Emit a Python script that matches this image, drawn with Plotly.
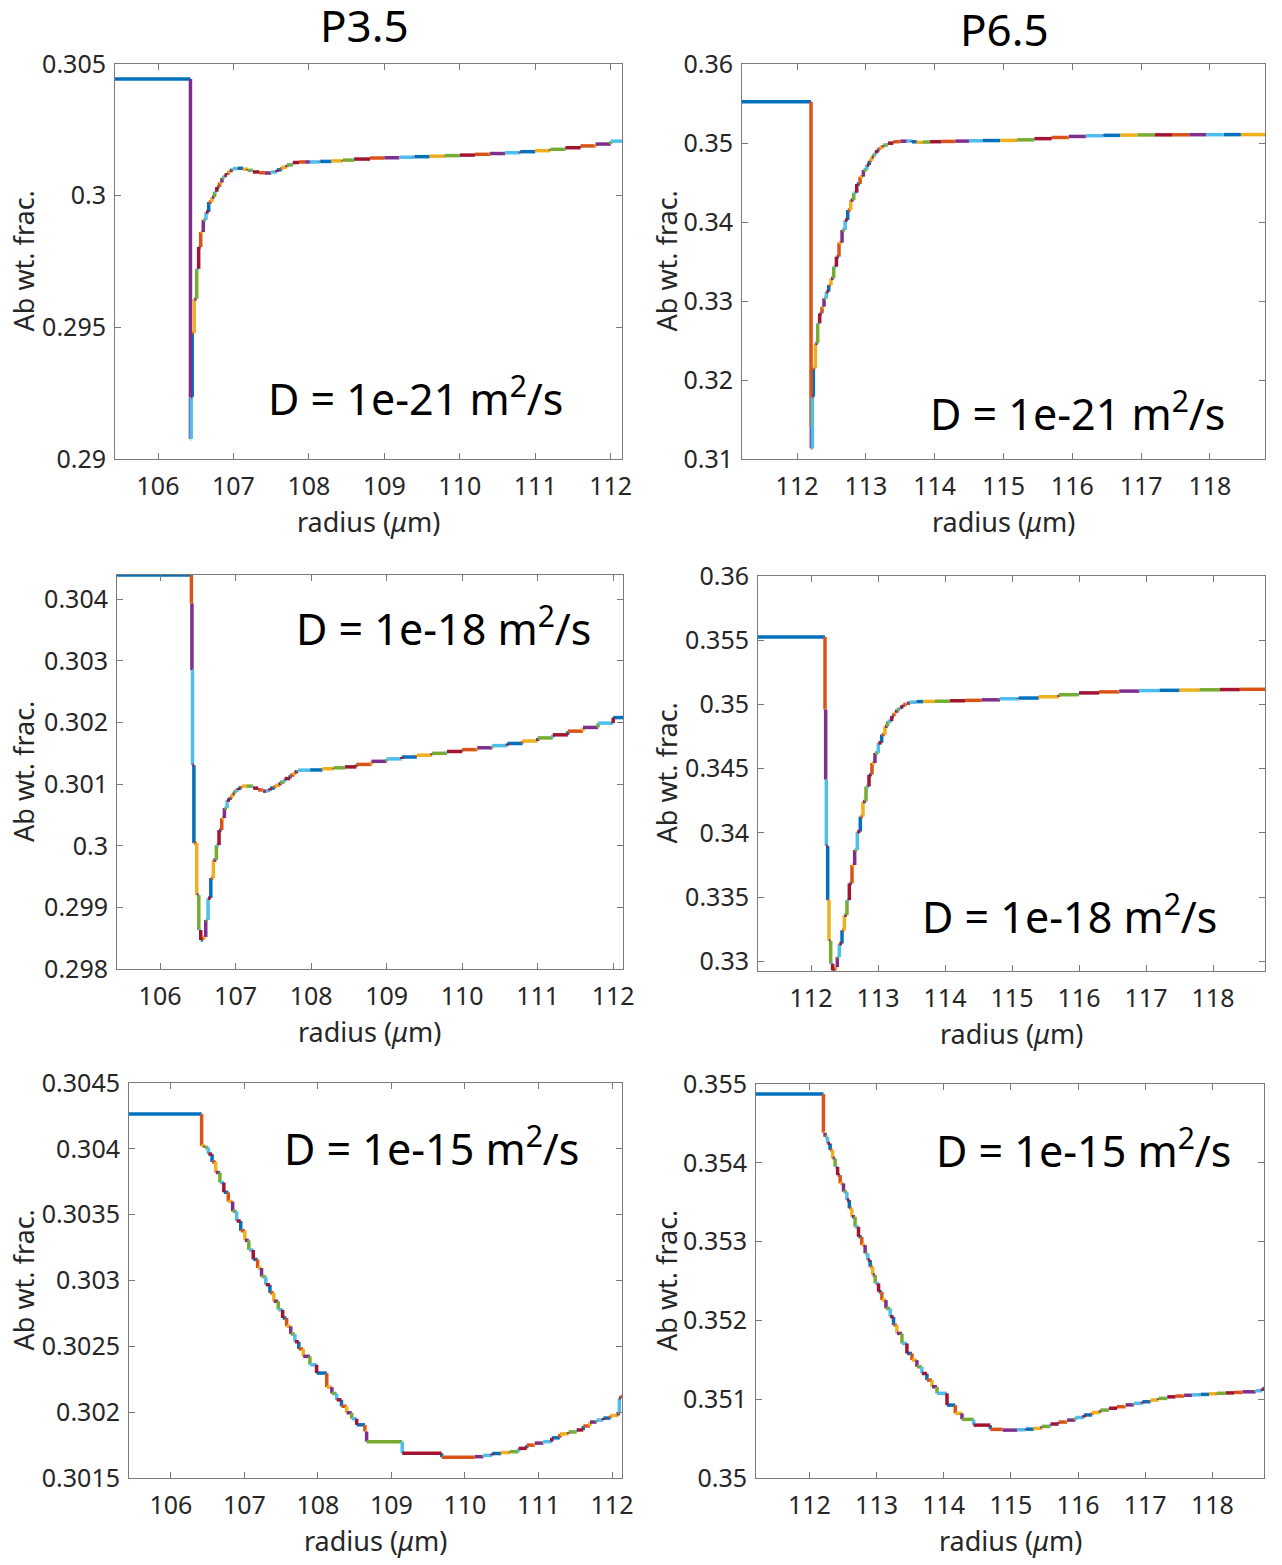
import plotly.graph_objects as go

# ---------------- data (ring start radius in um, Ab weight fraction) ----------------
palette = ['#0072BD', '#D95319', '#EDB120', '#7E2F8E', '#77AC30', '#4DBEEE', '#A2142F']

p35_d21_r = [105.43, 106.43, 106.44, 106.454, 106.481, 106.513, 106.539, 106.566, 106.600, 106.636,
             106.672, 106.715, 106.75, 106.78, 106.815, 106.848, 106.88, 106.914, 106.95, 106.993,
             107.06, 107.126, 107.19, 107.258, 107.34, 107.417, 107.5, 107.576, 107.64, 107.709,
             107.788, 107.87, 107.95, 108.013, 108.15, 108.3, 108.45, 108.6, 108.81, 109.0,
             109.2, 109.4, 109.6, 109.8, 110.0, 110.2, 110.4, 110.6, 110.8, 111.0,
             111.2, 111.4, 111.6, 111.8, 112.0]
p35_d21_c = [0.30443, 0.29076, 0.29236, 0.29479, 0.29608, 0.29722, 0.29805, 0.29862, 0.29908, 0.29938,
             0.29976, 0.29995, 0.30015, 0.30033, 0.30050, 0.30067, 0.30078, 0.30086, 0.30096, 0.30103,
             0.30104, 0.30101, 0.30096, 0.30090, 0.30087, 0.30086, 0.30090, 0.30098, 0.30108, 0.30117,
             0.30126, 0.30128, 0.30128, 0.30128, 0.30130, 0.30132, 0.30135, 0.30139, 0.30143, 0.30144,
             0.30146, 0.30148, 0.30150, 0.30152, 0.30154, 0.30157, 0.30160, 0.30163, 0.30167, 0.30171,
             0.30176, 0.30182, 0.30189, 0.30196, 0.30207]
p35_d21_end = 112.15

p35_d18_r = [105.43, 106.415, 106.422, 106.430, 106.448, 106.486, 106.513, 106.539, 106.566, 106.605,
             106.636, 106.672, 106.706, 106.746, 106.781, 106.817, 106.852, 106.887, 106.927, 106.96,
             106.993, 107.04, 107.082, 107.148, 107.232, 107.30, 107.364, 107.41, 107.457, 107.52,
             107.589, 107.65, 107.722, 107.78, 107.828, 107.987, 108.15, 108.3, 108.45, 108.6,
             108.8, 109.0, 109.2, 109.4, 109.6, 109.8, 110.0, 110.2, 110.4, 110.6,
             110.8, 111.0, 111.2, 111.4, 111.6, 111.8, 112.0]
p35_d18_c = [0.304394, 0.303935, 0.302849, 0.301308, 0.300043, 0.299200, 0.298632, 0.298470, 0.298520, 0.298795,
             0.299151, 0.299476, 0.299768, 0.300011, 0.300254, 0.300449, 0.300611, 0.300741, 0.300789, 0.300850,
             0.300903, 0.300940, 0.300968, 0.300968, 0.300935, 0.300905, 0.300886, 0.300895, 0.300935, 0.300980,
             0.301032, 0.301090, 0.301146, 0.301200, 0.301227, 0.301230, 0.301250, 0.301265, 0.301280, 0.301320,
             0.301370, 0.301410, 0.301440, 0.301470, 0.301500, 0.301530, 0.301560, 0.301590, 0.301625, 0.301660,
             0.301700, 0.301750, 0.301800, 0.301860, 0.301920, 0.301990, 0.302080]
p35_d18_end = 112.13

p35_d15_r = [105.43, 106.418, 106.463, 106.51, 106.56, 106.61, 106.667, 106.72, 106.78, 106.84,
             106.894, 106.95, 107.007, 107.06, 107.12, 107.18, 107.233, 107.29, 107.347, 107.40,
             107.46, 107.52, 107.574, 107.63, 107.687, 107.74, 107.80, 107.891, 107.982, 108.12,
             108.19, 108.254, 108.32, 108.39, 108.46, 108.527, 108.639, 108.662, 109.147, 109.683,
             110.136, 110.25, 110.37, 110.49, 110.612, 110.73, 110.84, 110.95, 111.065, 111.18,
             111.29, 111.41, 111.52, 111.61, 111.70, 111.79, 111.882, 111.98, 112.086, 112.10,
             112.12]
p35_d15_c = [0.304264, 0.304023, 0.304010, 0.303960, 0.303900, 0.303820, 0.303744, 0.303670, 0.303600, 0.303525,
             0.303452, 0.303378, 0.303305, 0.303232, 0.303160, 0.303095, 0.303030, 0.302968, 0.302906, 0.302842,
             0.302778, 0.302715, 0.302652, 0.302593, 0.302535, 0.302480, 0.302424, 0.302360, 0.302297, 0.302190,
             0.302142, 0.302094, 0.302045, 0.301995, 0.301950, 0.301904, 0.301853, 0.301776, 0.301688, 0.301658,
             0.301662, 0.301672, 0.301686, 0.301693, 0.301700, 0.301725, 0.301750, 0.301765, 0.301776, 0.301805,
             0.301835, 0.301850, 0.301865, 0.301895, 0.301925, 0.301940, 0.301955, 0.301975, 0.301993, 0.302107,
             0.302119]
p35_d15_end = 112.136

p65_d21_r = [111.20, 112.203, 112.208, 112.223, 112.237, 112.266, 112.300, 112.329, 112.363, 112.392,
             112.426, 112.460, 112.494, 112.533, 112.572, 112.610, 112.654, 112.698, 112.736, 112.780,
             112.824, 112.867, 112.916, 112.964, 113.013, 113.05, 113.085, 113.12, 113.158, 113.2,
             113.254, 113.32, 113.4, 113.5, 113.594, 113.67, 113.74, 113.83, 113.933, 114.1,
             114.3, 114.5, 114.7, 114.95, 115.2, 115.45, 115.7, 115.95, 116.2, 116.45,
             116.7, 116.95, 117.2, 117.45, 117.7, 117.95, 118.2, 118.45]
p65_d21_c = [0.355232, 0.314093, 0.311351, 0.317890, 0.321477, 0.324641, 0.327173, 0.328439, 0.329283, 0.330338,
             0.331181, 0.332025, 0.332869, 0.334346, 0.335612, 0.337384, 0.338987, 0.340253, 0.341519, 0.342785,
             0.343713, 0.344810, 0.345738, 0.346582, 0.347215, 0.347750, 0.348266, 0.348700, 0.349114, 0.349450,
             0.349747, 0.349980, 0.350165, 0.350230, 0.350253, 0.350150, 0.350080, 0.350120, 0.350165, 0.350200,
             0.350240, 0.350280, 0.350310, 0.350330, 0.350400, 0.350550, 0.350700, 0.350830, 0.350920, 0.350970,
             0.351000, 0.351020, 0.351030, 0.351040, 0.351050, 0.351055, 0.351060, 0.351065]
p65_d21_end = 118.80

p65_d18_r = [111.209, 112.209, 112.219, 112.229, 112.249, 112.269, 112.294, 112.323, 112.358, 112.393,
             112.423, 112.463, 112.498, 112.537, 112.572, 112.612, 112.652, 112.691, 112.736, 112.776,
             112.821, 112.866, 112.910, 112.955, 113.005, 113.055, 113.104, 113.144, 113.204, 113.24,
             113.279, 113.33, 113.378, 113.43, 113.478, 113.58, 113.676, 113.85, 114.075, 114.3,
             114.55, 114.821, 115.1, 115.4, 115.7, 116.0, 116.3, 116.6, 116.9, 117.2,
             117.5, 117.8, 118.1, 118.4]
p65_d18_c = [0.355258, 0.349609, 0.344141, 0.338984, 0.334766, 0.331586, 0.329820, 0.329300, 0.329551, 0.330332,
             0.331383, 0.332422, 0.333594, 0.334766, 0.336069, 0.337500, 0.338672, 0.340102, 0.341273, 0.342445,
             0.343617, 0.344531, 0.345445, 0.346227, 0.347008, 0.347656, 0.348305, 0.348695, 0.349086, 0.349350,
             0.349609, 0.349800, 0.350000, 0.350100, 0.350180, 0.350220, 0.350234, 0.350250, 0.350286, 0.350320,
             0.350360, 0.350443, 0.350500, 0.350600, 0.350760, 0.350900, 0.350980, 0.351040, 0.351080, 0.351100,
             0.351120, 0.351140, 0.351160, 0.351180]
p65_d18_end = 118.776

p65_d15_r = [111.205, 112.209, 112.234, 112.27, 112.309, 112.346, 112.383, 112.42, 112.458, 112.508,
             112.558, 112.595, 112.632, 112.68, 112.731, 112.78, 112.830, 112.868, 112.905, 112.943,
             112.980, 113.03, 113.079, 113.14, 113.203, 113.253, 113.303, 113.378, 113.452, 113.527,
             113.601, 113.675, 113.750, 113.825, 113.900, 114.049, 114.172, 114.272, 114.445, 114.694,
             114.878, 115.092, 115.22, 115.340, 115.46, 115.59, 115.71, 115.838, 115.96, 116.09,
             116.21, 116.334, 116.46, 116.58, 116.71, 116.831, 116.96, 117.08, 117.20, 117.329,
             117.45, 117.58, 117.70, 117.825, 117.95, 118.07, 118.20, 118.322, 118.45, 118.645,
             118.745]
p65_d15_c = [0.354872, 0.354381, 0.354330, 0.354245, 0.354161, 0.354055, 0.353949, 0.353844, 0.353739, 0.353633,
             0.353527, 0.353421, 0.353315, 0.353188, 0.353061, 0.352956, 0.352851, 0.352766, 0.352681, 0.352575,
             0.352470, 0.352364, 0.352258, 0.352152, 0.352046, 0.351940, 0.351835, 0.351708, 0.351581, 0.351496,
             0.351411, 0.351326, 0.351242, 0.351158, 0.351074, 0.350925, 0.350820, 0.350744, 0.350671, 0.350617,
             0.350608, 0.350612, 0.350620, 0.350630, 0.350655, 0.350685, 0.350710, 0.350735, 0.350768, 0.350800,
             0.350832, 0.350862, 0.350885, 0.350905, 0.350928, 0.350947, 0.350968, 0.350990, 0.351010, 0.351030,
             0.351040, 0.351050, 0.351056, 0.351061, 0.351068, 0.351075, 0.351080, 0.351086, 0.351094, 0.351107,
             0.351137]
p65_d15_end = 118.769

# tick labels
left_xticks = [106, 107, 108, 109, 110, 111, 112]
right_xticks = [112, 113, 114, 115, 116, 117, 118]
p35_d21_yticks = [0.29, 0.295, 0.3, 0.305]
p35_d18_yticks = [0.298, 0.299, 0.3, 0.301, 0.302, 0.303, 0.304]
p35_d15_yticks = [0.3015, 0.302, 0.3025, 0.303, 0.3035, 0.304, 0.3045]
p65_d21_yticks = [0.31, 0.32, 0.33, 0.34, 0.35, 0.36]
p65_d18_yticks = [0.33, 0.335, 0.34, 0.345, 0.35, 0.355, 0.36]
p65_d15_yticks = [0.35, 0.351, 0.352, 0.353, 0.354, 0.355]

column_titles = ['P3.5', 'P6.5']
d_labels = ['D = 1e-21 m<sup>2</sup>/s', 'D = 1e-18 m<sup>2</sup>/s', 'D = 1e-15 m<sup>2</sup>/s']

# ---------------- layout (pixel boxes) ----------------
W, H = 1282, 1565
FONT = 'Noto Sans'
TXT = '#000000'
AXC = '#262626'
TICK_SIZE = 25
LABEL_SIZE = 27
D_SIZE = 43
TITLE_SIZE = 44

panels = [
    # r, c, end, yticks, yrange, xticks, box(x0,x1,y0,y1), first-vertical colour, label px, label py, label
    (p35_d21_r, p35_d21_c, p35_d21_end, p35_d21_yticks, [0.29, 0.305], left_xticks, (115, 622, 64, 459), 3, 266, 397, d_labels[0]),
    (p35_d18_r, p35_d18_c, p35_d18_end, p35_d18_yticks, [0.298, max(p35_d18_c)], left_xticks, (117, 623, 575, 969), 1, 294, 626, d_labels[1]),
    (p35_d15_r, p35_d15_c, p35_d15_end, p35_d15_yticks, [0.3015, 0.3045], left_xticks, (129, 622, 1083, 1478), 1, 282, 1146, d_labels[2]),
    (p65_d21_r, p65_d21_c, p65_d21_end, p65_d21_yticks, [0.31, 0.36], right_xticks, (742, 1265, 64, 459), 1, 928, 412, d_labels[0]),
    (p65_d18_r, p65_d18_c, p65_d18_end, p65_d18_yticks, [0.32925, 0.36], right_xticks, (758, 1265, 576, 971), 1, 920, 914, d_labels[1]),
    (p65_d15_r, p65_d15_c, p65_d15_end, p65_d15_yticks, [0.35, 0.355], right_xticks, (756, 1264, 1084, 1478), 1, 934, 1148, d_labels[2]),
]


def fmt(v):
    return ('%.4f' % v).rstrip('0').rstrip('.')


fig = go.Figure()
layout = dict(width=W, height=H, margin=dict(l=0, r=0, t=0, b=0),
              paper_bgcolor='white', plot_bgcolor='white', showlegend=False)
annotations = []

for i, (r, c, end, yt, yr, xt, box, v0, lpx, lpy, lab) in enumerate(panels):
    n = i + 1
    xa = 'x' if n == 1 else 'x%d' % n
    ya = 'y' if n == 1 else 'y%d' % n
    x0, x1, y0, y1 = box
    # staircase segments: horizontal for each ring, vertical between rings
    segs = []
    bounds = list(r) + [end]
    for j in range(len(c)):
        if j > 0:
            segs.append(((r[j], r[j]), (c[j - 1], c[j])))
        segs.append(((bounds[j], bounds[j + 1]), (c[j], c[j])))
    groups = {k: ([], []) for k in range(7)}
    for k, (sx, sy) in enumerate(segs):
        ci = 0 if k == 0 else (k - 1 + v0) % 7
        gx, gy = groups[ci]
        gx.extend([sx[0], sx[1], None])
        gy.extend([sy[0], sy[1], None])
    for ci in range(7):
        gx, gy = groups[ci]
        if gx:
            fig.add_trace(go.Scatter(x=gx, y=gy, mode='lines', xaxis=xa, yaxis=ya,
                                     line=dict(color=palette[ci], width=3.5), hoverinfo='skip'))
    common = dict(showline=True, linecolor='#7a7a7a', linewidth=1, mirror='ticks',
                  ticks='inside', ticklen=6, tickcolor='#7a7a7a', tickwidth=1,
                  showgrid=False, zeroline=False, automargin=False,
                  tickfont=dict(family=FONT, size=TICK_SIZE, color=AXC))
    layout['xaxis' if n == 1 else 'xaxis%d' % n] = dict(
        domain=[x0 / W, x1 / W], range=[r[0], end], anchor=ya,
        tickvals=xt, ticktext=[str(v) for v in xt], ticklabelstandoff=5, **common)
    layout['yaxis' if n == 1 else 'yaxis%d' % n] = dict(
        domain=[1 - y1 / H, 1 - y0 / H], range=yr, anchor=xa,
        tickvals=yt, ticktext=[fmt(v) for v in yt], ticklabelstandoff=3, **common)
    # axis titles
    annotations.append(dict(text='radius (<i>μ</i>m)', xref='paper', yref='paper',
                            x=(x0 + x1) / 2 / W, y=1 - (y1 + 62) / H, xanchor='center', yanchor='middle',
                            showarrow=False, font=dict(family=FONT, size=LABEL_SIZE, color=AXC)))
    annotations.append(dict(text='Ab wt. frac.', xref='paper', yref='paper', textangle=-90,
                            x=(23 if n <= 3 else 666) / W, y=1 - (y0 + y1) / 2 / H,
                            xanchor='center', yanchor='middle', showarrow=False,
                            font=dict(family=FONT, size=LABEL_SIZE, color=AXC)))
    annotations.append(dict(text=lab, xref='paper', yref='paper', x=lpx / W, y=1 - lpy / H,
                            xanchor='left', yanchor='middle', showarrow=False,
                            font=dict(family=FONT, size=D_SIZE, color=TXT)))

annotations.append(dict(text=column_titles[0], xref='paper', yref='paper', x=364 / W, y=1 - 25 / H,
                        xanchor='center', yanchor='middle', showarrow=False,
                        font=dict(family=FONT, size=TITLE_SIZE, color=TXT)))
annotations.append(dict(text=column_titles[1], xref='paper', yref='paper', x=1004 / W, y=1 - 29 / H,
                        xanchor='center', yanchor='middle', showarrow=False,
                        font=dict(family=FONT, size=TITLE_SIZE, color=TXT)))
layout['annotations'] = annotations
fig.update_layout(**layout)
fig.write_html('out.html')
